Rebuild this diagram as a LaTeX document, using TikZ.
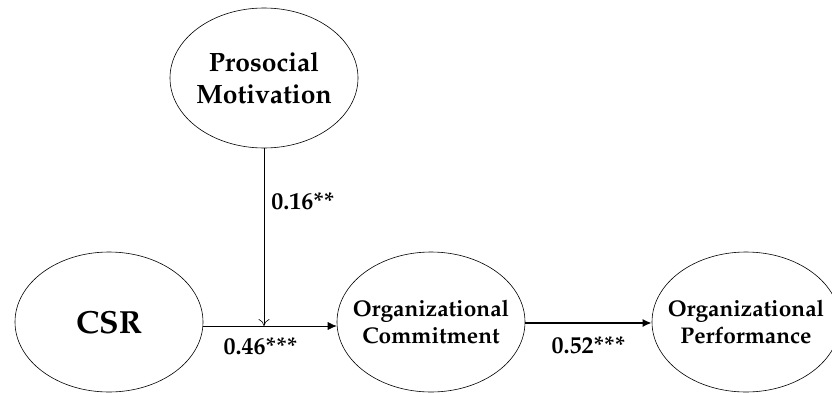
\documentclass[tikz,border=0pt]{standalone}
\usepackage[T1]{fontenc}
\usepackage{mathpazo}
\usetikzlibrary{calc}
\usetikzlibrary{positioning}
\usetikzlibrary{shapes.geometric}
\usetikzlibrary{arrows,arrows.meta}
\tikzset{
	>={Latex[length=9pt,width=8pt]},
	latent/.style={
		ellipse,
		draw=black, semithick,
		minimum width=188pt,
		minimum height=140pt,
		inner xsep=-30pt, inner ysep=0pt,
		align=center,
		font=\bfseries\fontsize{22.7}{27}\selectfont},
	path/.style={draw, semithick, ->},
	moderate/.style={draw, semithick, -{To[length=7pt,width=11pt]}},
	coef/.style={font=\bfseries\fontsize{24}{28}\selectfont, inner sep=2pt},
}
\begin{document}
\begin{tikzpicture}[x=1pt,y=1pt]
	\useasboundingbox (0,0) rectangle (832,392);
	\node[latent, font=\bfseries\fontsize{26.5}{32}\selectfont] (pro) at (264,314) {Prosocial\\Motivation};
	\node[latent, font=\bfseries\fontsize{32}{38}\selectfont] (csr) at (109,70) {CSR};
	\node[latent] (com) at (431,70) {Organizational\\Commitment};
	\node[latent] (perf) at (746,70) {Organizational\\Performance};
	% moderation point on the CSR path
	\coordinate (mod) at (pro.south |- 0,66);
	\path[path] ([yshift=-4pt]csr.east) -- ([yshift=-4pt]com.west)
		node[coef, pos=0.43, below=9pt] (b1) {0.46***};
	\path[moderate] (pro.south) -- (mod)
		node[coef, pos=0.3, right=5pt] (b2) {0.16**};
	\path[path, line width=1.6pt] ([yshift=-1pt]com.east) -- ([yshift=-1pt]perf.west)
		node[coef, midway, below=11pt] (b3) {0.52***};
\end{tikzpicture}
\end{document}
